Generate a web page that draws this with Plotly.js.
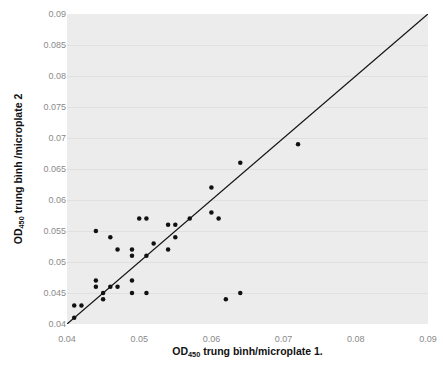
<!DOCTYPE html>
<html>
<head>
<meta charset="utf-8">
<script src="https://cdn.plot.ly/plotly-3.0.1.min.js"></script>
<style>html,body{margin:0;padding:0;background:#fff;}#chart{width:443px;height:367px;}</style>
</head>
<body>
<div id="chart"></div>
<script>
// OD450 mean, microplate 1 (x) vs microplate 2 (y)
var plate1 = [0.041,0.041,0.042,0.044,0.044,0.044,0.045,0.045,0.046,0.046,0.047,0.047,
              0.049,0.049,0.049,0.049,0.050,0.051,0.051,0.051,0.052,0.054,0.054,0.055,
              0.055,0.057,0.060,0.060,0.061,0.062,0.064,0.064,0.072];
var plate2 = [0.041,0.043,0.043,0.055,0.047,0.046,0.045,0.044,0.046,0.054,0.052,0.046,
              0.052,0.051,0.047,0.045,0.057,0.057,0.051,0.045,0.053,0.056,0.052,0.056,
              0.054,0.057,0.062,0.058,0.057,0.044,0.066,0.045,0.069];
var identityLine = [0.04, 0.09];
var xTicks = [0.04,0.05,0.06,0.07,0.08,0.09];
var xTickText = ["0.04","0.05","0.06","0.07","0.08","0.09"];
var yTicks = [0.04,0.045,0.05,0.055,0.06,0.065,0.07,0.075,0.08,0.085,0.09];
var yTickText = ["0.04","0.045","0.05","0.055","0.06","0.065","0.07","0.075","0.08","0.085","0.09"];

var traces = [
  {x: identityLine, y: identityLine, mode: 'lines', line: {color: '#111', width: 1.3}, hoverinfo: 'skip'},
  {x: plate1, y: plate2, mode: 'markers', marker: {color: '#111', size: 4.5}}
];
var tickFont = {family: 'Liberation Sans, Arial, sans-serif', size: 9, color: '#8a8a8a'};
var titleFont = {family: 'Liberation Sans, Arial, sans-serif', size: 10.5, color: '#111'};
var layout = {
  width: 443, height: 367,
  margin: {l: 67, r: 15, t: 14, b: 43},
  paper_bgcolor: '#ffffff',
  plot_bgcolor: '#ececec',
  showlegend: false,
  xaxis: {
    range: [0.04, 0.09], tickvals: xTicks, ticktext: xTickText,
    showgrid: false, zeroline: false, showline: false,
    ticks: '', tickfont: tickFont, ticklabelstandoff: 8,
    title: {text: '<b>OD<sub>450</sub> trung bình/microplate 1.</b>', font: titleFont, standoff: 4}
  },
  yaxis: {
    range: [0.04, 0.09], tickvals: yTicks, ticktext: yTickText,
    showgrid: true, gridcolor: '#e0e0e0', gridwidth: 1, zeroline: false, showline: false,
    ticks: '', tickfont: tickFont,
    title: {text: '<b>OD<sub>450</sub> trung bình /microplate 2</b>', font: titleFont, standoff: 18}
  }
};
Plotly.newPlot('chart', traces, layout, {displayModeBar: false, staticPlot: true});
</script>
</body>
</html>
